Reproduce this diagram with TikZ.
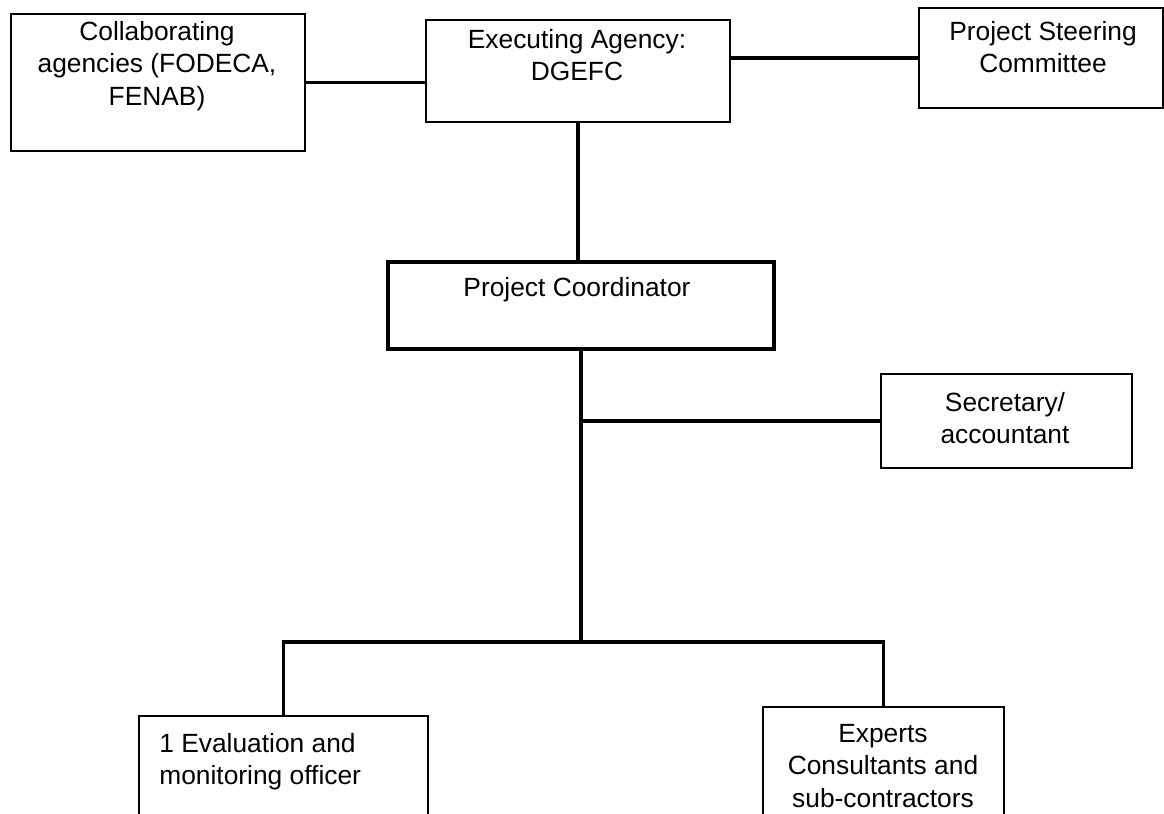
\documentclass[tikz,border=0pt]{standalone}
\usepackage{fontspec}
\setmainfont{Liberation Sans}
\begin{document}
\begin{tikzpicture}[x=0.02cm,y=-0.02cm,
	box/.style={draw,line width=1.1pt,inner sep=0pt,anchor=north west},
	txt/.style={inner sep=0pt,anchor=north,align=center,font=\fontsize{15pt}{18.5pt}\selectfont},
	link/.style={line width=2pt}]
	\clip (0,0) rectangle (1164,814);
	\node[box,minimum width=5.88cm,minimum height=2.74cm] (collab) at (10,13) {};
	\node[box,minimum width=6.08cm,minimum height=2.04cm] (exec) at (425,19) {};
	\node[box,minimum width=4.88cm,minimum height=2.00cm] (steer) at (918,7) {};
	\node[box,line width=2.3pt,minimum width=7.72cm,minimum height=1.74cm] (pc) at (386,260) {};
	\node[box,minimum width=5.02cm,minimum height=1.88cm] (sec) at (880,373) {};
	\node[box,minimum width=5.78cm,minimum height=2.40cm] (eval) at (138,715) {};
	\node[box,minimum width=4.82cm,minimum height=2.60cm] (exp) at (762,706) {};
	\node[txt] (collabtxt) at (157,21) {Collaborating\\agencies (FODECA,\\FENAB)};
	\node[txt] (exectxt) at (577,29) {Executing Agency:\\DGEFC};
	\node[txt] (steertxt) at (1043,21) {Project Steering\\Committee};
	\node[txt] (pctxt) at (577,277) {Project Coordinator};
	\node[txt] (sectxt) at (1005,392) {Secretary/\\accountant};
	\node[txt,anchor=north west,align=left] (evaltxt) at (159,733) {1 Evaluation and\\monitoring officer};
	\node[txt] (exptxt) at (883,724) {Experts\\Consultants and\\sub-contractors};
	\draw[link] (collab.east) -- (collab.east -| exec.west);
	\draw[link] (steer.west -| exec.east) -- (steer.west);
	\draw[link] (exec.south) -- (exec.south |- pc.north);
	\coordinate (hub) at (pc.south |- 0,642);
	\draw[link] (pc.south) -- (hub);
	\draw[link] (sec.west -| pc.south) -- (sec.west);
	\draw[link] (eval.north) |- (hub) -| (exp.north);
\end{tikzpicture}
\end{document}
